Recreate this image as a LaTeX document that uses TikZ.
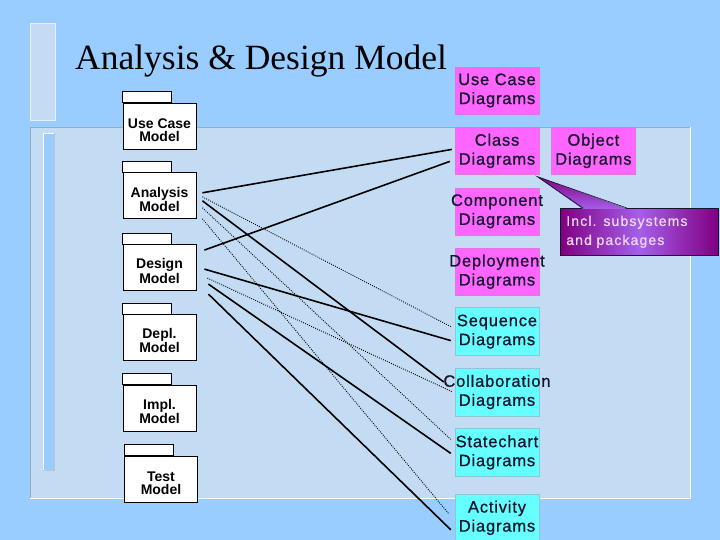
\documentclass[tikz,border=0pt]{standalone}
\usepackage{fontspec}
\setmainfont{Liberation Serif}
\setsansfont{Liberation Sans}
\newfontfamily\diagfont[LetterSpace=5,FakeBold=0.8]{Liberation Sans}
\newfontfamily\notefont[LetterSpace=8,FakeBold=0.8]{Liberation Sans}
\usetikzlibrary{positioning,calc}
\definecolor{slideblue}{RGB}{153,204,255}
\definecolor{panelblue}{RGB}{196,220,243}
\definecolor{panelgray}{RGB}{150,172,196}
\definecolor{diagpink}{RGB}{255,102,255}
\definecolor{diagcyan}{RGB}{102,255,255}
\definecolor{pinkedge}{RGB}{222,120,222}
\definecolor{cyanedge}{RGB}{140,200,210}
\definecolor{notedark}{RGB}{128,0,128}
\definecolor{notelight}{RGB}{165,95,235}
\definecolor{inkblue}{RGB}{20,20,45}
\newcommand{\spillword}[1]{\makebox[0pt]{#1}}
\tikzset{
  title/.style ={font=\rmfamily\fontsize{35.5}{40}\selectfont, inner sep=0pt},
  pkg/.style   ={rectangle, draw=black, fill=white, line width=0.8pt, minimum width=73pt,
                 minimum height=46pt, inner sep=0pt, align=center, text height=31pt,
                 font=\sffamily\bfseries\fontsize{14}{13}\selectfont},
  pkgtab/.style={draw=black, fill=white, line width=0.8pt},
  pbox/.style  ={rectangle, draw=pinkedge, fill=diagpink, text width=84pt, minimum height=47pt,
                 inner sep=0pt, align=center, text=inkblue,
                 font=\diagfont\fontsize{16.5}{19}\selectfont},
  cbox/.style  ={pbox, draw=cyanedge, fill=diagcyan, minimum height=48pt},
  note/.style  ={rectangle, draw=inkblue, line width=0.6pt, left color=notedark,
                 right color=notedark, middle color=notelight, text width=146pt,
                 minimum height=47pt, inner xsep=6pt, align=left, text=white!85!violet,
                 font=\notefont\fontsize{14}{19}\selectfont},
  pointer/.style={top color=notedark, bottom color=notelight},
  link/.style  ={line width=1.6pt, draw=black},
  linkd/.style ={line width=0.9pt, draw=black, dash pattern=on 0.9pt off 1.3pt}
}
\begin{document}
\begin{tikzpicture}[x=1pt, y=-1pt]
\useasboundingbox (0,0) rectangle (720,540);
\fill[slideblue] (0,0) rectangle (720,540);
% slide decoration
\fill[panelblue] (30,23) rectangle (55,120);
\draw[white!55!panelblue, line width=0.8pt] (30,23) rectangle (55,120);
\fill[panelblue] (30,127) rectangle (690,498);
\draw[panelgray, line width=0.8pt] (30,498) -- (30,127) -- (690,127);
\draw[white, line width=0.8pt] (30,498) -- (690,498) -- (690,127);
\fill[slideblue] (43,133) rectangle (54,470);
\draw[white, line width=0.8pt] (43,470) -- (43,133) -- (54,133);
\draw[panelgray!70, line width=0.8pt] (54,133) -- (54,470) -- (43,470);

\node[title, anchor=base west] (ttl) at (75,69.5) {Analysis \& Design Model};

% models
\node[pkg] (ucm) at (159.5,126) {Use Case\\Model};
\node[pkg, below=23pt of ucm] (anl) {Analysis\\Model};
\node[pkg, below=25pt of anl] (dsg) {Design\\Model};
\node[pkg, below=23pt of dsg] (dpl) {Depl.\\Model};
\node[pkg, below=24pt of dpl] (imp) {Impl.\\Model};
\node[pkg, below=24pt of imp, xshift=1.5pt] (tst) {Test\\Model};
\foreach \m in {ucm,anl,dsg,dpl,imp,tst}
  \draw[pkgtab] (\m.north west) rectangle ++(49pt,11pt);

% diagrams
\node[pbox] (ucd) at (497,90.5) {Use Case\\Diagrams};
\node[pbox, below=13pt of ucd] (cls) {Class\\Diagrams};
\node[pbox, right=12pt of cls] (obj) {Object\\Diagrams};
\node[pbox, below=13pt of cls] (cmp) {\spillword{Component}\\Diagrams};
\node[pbox, below=13pt of cmp] (dpy) {\spillword{Deployment}\\Diagrams};
\node[cbox, below=12pt of dpy] (seq) {Sequence\\Diagrams};
\node[cbox, below=12pt of seq] (col) {\spillword{Collaboration}\\Diagrams};
\node[cbox, below=12pt of col] (stc) {Statechart\\Diagrams};
\node[cbox, below=17pt of stc] (act) {Activity\\Diagrams};

% callout
\node[note, anchor=north west] (inc) at (560,208) {Incl. subsystems\\and packages};
\fill[pointer] ([xshift=-2pt,yshift=-2pt]cls.south east) -- ([xshift=23pt,yshift=-1pt]inc.north west)
  -- ([xshift=67pt,yshift=-1pt]inc.north west) -- cycle;
\draw[inkblue, line width=0.6pt] ([xshift=23pt]inc.north west) -- ([xshift=-2pt,yshift=-2pt]cls.south east)
  -- ([xshift=67pt]inc.north west);

% analysis model links
\draw[link]  ([xshift=6pt,yshift=3pt]anl.east) -- ([xshift=-3pt,yshift=1.5pt]cls.west);
\draw[linkd] ([xshift=6pt,yshift=-1pt]anl.east) -- ([xshift=-4pt,yshift=5pt]seq.west);
\draw[link]  ([xshift=6pt,yshift=-5pt]anl.east) -- ([xshift=-11pt,yshift=10pt]col.west);
\draw[linkd] ([xshift=6pt,yshift=-12pt]anl.east) -- ([xshift=-4pt,yshift=13pt]stc.west);
\draw[linkd] ([xshift=6pt,yshift=-23pt]anl.east) -- ([xshift=-6pt,yshift=4pt]act.west);
% design model links
\draw[link]  ([xshift=8pt,yshift=17.5pt]dsg.east) -- ([xshift=-5pt,yshift=-10.5pt]cls.west);
\draw[link]  ([xshift=8pt,yshift=-1.5pt]dsg.east) -- ([xshift=-4pt,yshift=-9pt]seq.west);
\draw[linkd] ([xshift=11pt,yshift=-10.5pt]dsg.east) -- ([xshift=-2pt]col.west);
\draw[link]  ([xshift=12pt,yshift=-16.5pt]dsg.east) -- ([xshift=-4pt,yshift=-1pt]stc.west);
\draw[link]  ([xshift=12pt,yshift=-26.5pt]dsg.east) -- ([xshift=-4pt,yshift=-12pt]act.west);
\end{tikzpicture}
\end{document}
